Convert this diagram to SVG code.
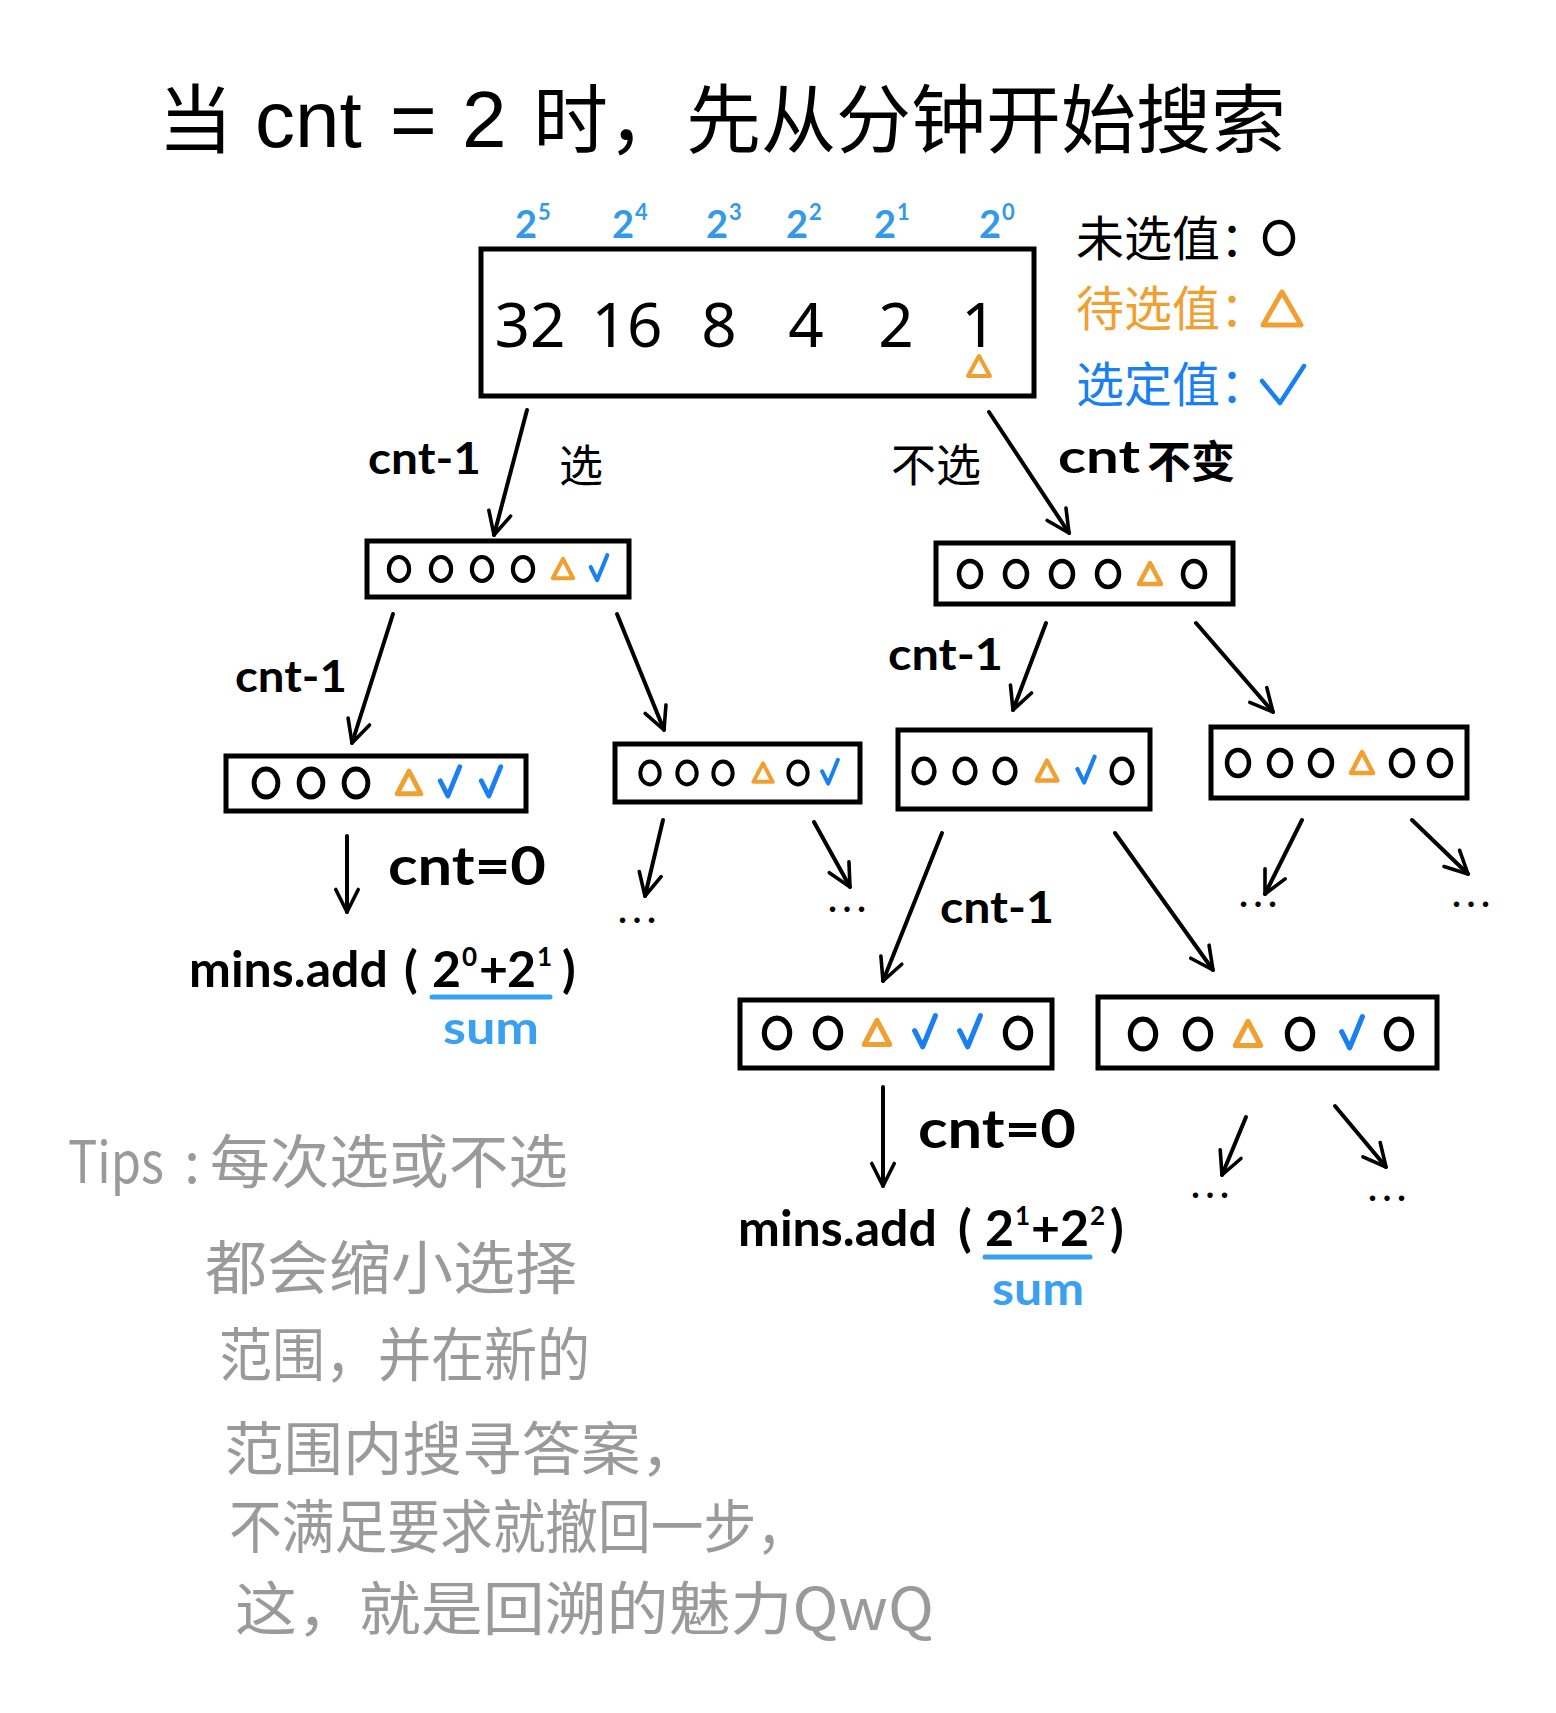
<svg xmlns="http://www.w3.org/2000/svg" xmlns:xlink="http://www.w3.org/1999/xlink" width="1556" height="1713" viewBox="0 0 1556 1713">
<style>
.box{fill:none;stroke:#000;stroke-width:5}
.arr{stroke:#000;stroke-width:4;fill:none;stroke-linecap:round;marker-end:url(#ah)}
.o{fill:none;stroke:#000;stroke-width:4.5}
.t{fill:none;stroke:#f0a030;stroke-width:4.5;stroke-linejoin:round}
.v{fill:none;stroke:#1a80f0;stroke-width:4.5;stroke-linecap:round;stroke-linejoin:round}
.lbl{font-family:Lato,"Noto Sans","Noto Sans CJK SC",sans-serif;font-weight:700;fill:#000}
.cjk{font-family:"Noto Sans CJK SC",sans-serif}
.ttl{font-family:"Liberation Sans","Noto Sans CJK SC",sans-serif;fill:#000}
.pw{font-family:Lato,sans-serif;font-weight:700;fill:#3399ea;font-size:38px}
.ps{font-family:Lato,sans-serif;font-weight:700;fill:#3399ea;font-size:22px}
.num{font-family:"Noto Sans",sans-serif;font-size:62px;text-anchor:middle;fill:#000}
.dots{font-family:Lato,sans-serif;font-weight:700;font-size:36px;letter-spacing:6px;text-anchor:middle;fill:#000}
.tips{font-family:"Noto Sans CJK SC",sans-serif;fill:#9a9a9a;font-size:58px}
.ul{stroke:#3aa0ef;stroke-width:5;stroke-linecap:round}
.sum{font-family:Lato,sans-serif;font-weight:700;fill:#3aa0ef;font-size:46px}
.m{font-family:Lato,sans-serif;font-weight:700;fill:#000;font-size:50px}
.ms{font-family:Lato,sans-serif;font-weight:700;fill:#000;font-size:26px}
</style>
<defs>
<marker id="ah" viewBox="0 0 20 20" refX="18" refY="10" markerWidth="30" markerHeight="30" markerUnits="userSpaceOnUse" orient="auto">
<path d="M3,2.5 L18,10 L3,17.5" fill="none" stroke="#000" stroke-width="2.4" stroke-linecap="round" stroke-linejoin="round"/>
</marker>
<g id="O"><ellipse rx="11" ry="13" class="o"/></g>
<g id="T"><polygon points="-11,10 0,-11 11,10" class="t"/></g>
<g id="V"><path d="M-9,-2 L-2,12 L9,-15" class="v"/></g>
</defs>
<rect width="1556" height="1713" fill="#fff"/>

<g id="title">
<text class="ttl" font-size="75" x="158" y="147">当</text>
<text class="ttl" font-size="80" x="255" y="147">cnt</text>
<text class="ttl" font-size="80" x="390" y="147">=</text>
<text class="ttl" font-size="80" x="462" y="147">2</text>
<text class="ttl" font-size="75" x="533" y="147">时，</text>
<text class="ttl" font-size="75" x="686" y="147">先从分钟开始搜索</text>
</g>

<g id="legend">
<text class="cjk" font-size="48" x="1076" y="256" fill="#000">未选值：</text>
<ellipse cx="1279" cy="238" rx="14" ry="16" class="o"/>
<text class="cjk" font-size="48" x="1076" y="326" fill="#f0a030">待选值：</text>
<polygon points="1263,325 1282,292 1301,325" class="t" style="stroke-width:5"/>
<text class="cjk" font-size="48" x="1076" y="402" fill="#1a80f0">选定值：</text>
<path d="M1262,381 L1280,403 L1304,366" class="v"/>
</g>

<g id="root">
<rect class="box" x="481" y="249" width="553" height="147"/>
<text class="pw" x="515" y="238">2</text><text class="ps" x="538" y="220">5</text>
<text class="pw" x="612" y="238">2</text><text class="ps" x="635" y="220">4</text>
<text class="pw" x="706" y="238">2</text><text class="ps" x="729" y="220">3</text>
<text class="pw" x="786" y="238">2</text><text class="ps" x="809" y="220">2</text>
<text class="pw" x="874" y="238">2</text><text class="ps" x="897" y="220">1</text>
<text class="pw" x="979" y="238">2</text><text class="ps" x="1002" y="220">0</text>
<text class="num" x="530" y="347">32</text>
<text class="num" x="627" y="347">16</text>
<text class="num" x="719" y="347">8</text>
<text class="num" x="806" y="347">4</text>
<text class="num" x="896" y="347">2</text>
<text class="num" x="979" y="347">1</text>
<polygon points="968,376 979,356 990,376" class="t" style="stroke-width:4"/>
</g>

<g id="n1a">
<rect class="box" x="367" y="541" width="262" height="56"/>
<use xlink:href="#O" transform="translate(399,569) scale(0.92)"/>
<use xlink:href="#O" transform="translate(441,569) scale(0.92)"/>
<use xlink:href="#O" transform="translate(482,569) scale(0.92)"/>
<use xlink:href="#O" transform="translate(523,569) scale(0.92)"/>
<use xlink:href="#T" transform="translate(563,569) scale(0.92)"/>
<use xlink:href="#V" transform="translate(599,569) scale(0.92)"/>
</g>

<g id="n1b">
<rect class="box" x="936" y="543" width="297" height="61"/>
<use xlink:href="#O" transform="translate(970,574)"/>
<use xlink:href="#O" transform="translate(1016,574)"/>
<use xlink:href="#O" transform="translate(1062,574)"/>
<use xlink:href="#O" transform="translate(1108,574)"/>
<use xlink:href="#T" transform="translate(1150,574)"/>
<use xlink:href="#O" transform="translate(1194,574)"/>
</g>

<g id="n2a">
<rect class="box" x="226" y="756" width="300" height="55"/>
<use xlink:href="#O" transform="translate(266,783) scale(1.08)"/>
<use xlink:href="#O" transform="translate(311,783) scale(1.08)"/>
<use xlink:href="#O" transform="translate(356,783) scale(1.08)"/>
<use xlink:href="#T" transform="translate(409,783) scale(1.08)"/>
<use xlink:href="#V" transform="translate(450,783) scale(1.08)"/>
<use xlink:href="#V" transform="translate(491,783) scale(1.08)"/>
</g>

<g id="n2b">
<rect class="box" x="615" y="744" width="245" height="58"/>
<use xlink:href="#O" transform="translate(650,773) scale(0.88)"/>
<use xlink:href="#O" transform="translate(687,773) scale(0.88)"/>
<use xlink:href="#O" transform="translate(723,773) scale(0.88)"/>
<use xlink:href="#T" transform="translate(763,773) scale(0.88)"/>
<use xlink:href="#O" transform="translate(798,773) scale(0.88)"/>
<use xlink:href="#V" transform="translate(830,773) scale(0.88)"/>
</g>

<g id="n2c">
<rect class="box" x="898" y="730" width="252" height="79"/>
<use xlink:href="#O" transform="translate(924,771) scale(0.95)"/>
<use xlink:href="#O" transform="translate(965,771) scale(0.95)"/>
<use xlink:href="#O" transform="translate(1005,771) scale(0.95)"/>
<use xlink:href="#T" transform="translate(1047,771) scale(0.95)"/>
<use xlink:href="#V" transform="translate(1086,771) scale(0.95)"/>
<use xlink:href="#O" transform="translate(1122,771) scale(0.95)"/>
</g>

<g id="n2d">
<rect class="box" x="1211" y="727" width="256" height="71"/>
<use xlink:href="#O" transform="translate(1238,763)"/>
<use xlink:href="#O" transform="translate(1280,763)"/>
<use xlink:href="#O" transform="translate(1321,763)"/>
<use xlink:href="#T" transform="translate(1362,763)"/>
<use xlink:href="#O" transform="translate(1402,763)"/>
<use xlink:href="#O" transform="translate(1440,763)"/>
</g>

<g id="n3a">
<rect class="box" x="740" y="1000" width="312" height="68"/>
<use xlink:href="#O" transform="translate(777,1033) scale(1.15)"/>
<use xlink:href="#O" transform="translate(828,1033) scale(1.15)"/>
<use xlink:href="#T" transform="translate(877,1033) scale(1.15)"/>
<use xlink:href="#V" transform="translate(925,1033) scale(1.15)"/>
<use xlink:href="#V" transform="translate(970,1033) scale(1.15)"/>
<use xlink:href="#O" transform="translate(1018,1033) scale(1.15)"/>
</g>

<g id="n3b">
<rect class="box" x="1098" y="997" width="339" height="71"/>
<use xlink:href="#O" transform="translate(1143,1034) scale(1.15)"/>
<use xlink:href="#O" transform="translate(1198,1034) scale(1.15)"/>
<use xlink:href="#T" transform="translate(1248,1034) scale(1.15)"/>
<use xlink:href="#O" transform="translate(1300,1034) scale(1.15)"/>
<use xlink:href="#V" transform="translate(1352,1034) scale(1.15)"/>
<use xlink:href="#O" transform="translate(1399,1034) scale(1.15)"/>
</g>

<g id="res1">
<text class="m" x="189" y="987">mins.add</text>
<text class="m" x="404" y="987">(</text>
<text class="m" x="432" y="987">2</text>
<text class="ms" x="462" y="966">0</text>
<text class="m" x="479" y="987">+</text>
<text class="m" x="507" y="987">2</text>
<text class="ms" x="537" y="966">1</text>
<text class="m" x="562" y="987">)</text>
<line class="ul" x1="432" y1="997" x2="550" y2="997"/>
<text class="sum" x="443" y="1044" textLength="96" lengthAdjust="spacingAndGlyphs">sum</text>
</g>

<g id="res2">
<text class="m" x="738" y="1246">mins.add</text>
<text class="m" x="958" y="1246">(</text>
<text class="m" x="985" y="1246">2</text>
<text class="ms" x="1015" y="1225">1</text>
<text class="m" x="1031" y="1246">+</text>
<text class="m" x="1060" y="1246">2</text>
<text class="ms" x="1090" y="1225">2</text>
<text class="m" x="1110" y="1246">)</text>
<line class="ul" x1="985" y1="1257" x2="1090" y2="1257"/>
<text class="sum" x="992" y="1305" textLength="92" lengthAdjust="spacingAndGlyphs">sum</text>
</g>

<g id="connectors">
<line class="arr" x1="527" y1="410" x2="494" y2="535"/>
<line class="arr" x1="989" y1="412" x2="1069" y2="533"/>
<line class="arr" x1="393" y1="614" x2="352" y2="743"/>
<line class="arr" x1="617" y1="614" x2="664" y2="730"/>
<line class="arr" x1="1046" y1="623" x2="1013" y2="710"/>
<line class="arr" x1="1196" y1="623" x2="1273" y2="712"/>
<line class="arr" x1="347" y1="836" x2="347" y2="912"/>
<line class="arr" x1="663" y1="820" x2="645" y2="896"/>
<line class="arr" x1="814" y1="822" x2="850" y2="887"/>
<line class="arr" x1="942" y1="833" x2="883" y2="981"/>
<line class="arr" x1="1115" y1="833" x2="1213" y2="970"/>
<line class="arr" x1="1302" y1="820" x2="1265" y2="894"/>
<line class="arr" x1="1412" y1="820" x2="1468" y2="874"/>
<line class="arr" x1="883" y1="1087" x2="883" y2="1186"/>
<line class="arr" x1="1246" y1="1117" x2="1222" y2="1175"/>
<line class="arr" x1="1335" y1="1106" x2="1386" y2="1167"/>
<text class="lbl" font-size="44" x="368" y="474" textLength="113" lengthAdjust="spacingAndGlyphs">cnt-1</text>
<text class="cjk" font-size="44" x="559" y="482" fill="#000">选</text>
<text class="cjk" font-size="45" x="891" y="482" fill="#000">不选</text>
<text class="lbl" font-size="46" x="1058" y="473" textLength="82" lengthAdjust="spacingAndGlyphs">cnt</text>
<text class="cjk" font-size="44" x="1147" y="478" font-weight="700" fill="#000">不变</text>
<text class="lbl" font-size="44" x="235" y="692" textLength="112" lengthAdjust="spacingAndGlyphs">cnt-1</text>
<text class="lbl" font-size="44" x="888" y="670" textLength="115" lengthAdjust="spacingAndGlyphs">cnt-1</text>
<text class="lbl" font-size="44" x="940" y="923" textLength="114" lengthAdjust="spacingAndGlyphs">cnt-1</text>
<text class="lbl" font-size="54" x="388" y="885" textLength="158" lengthAdjust="spacingAndGlyphs">cnt=0</text>
<text class="lbl" font-size="54" x="918" y="1148" textLength="158" lengthAdjust="spacingAndGlyphs">cnt=0</text>
<text class="dots" x="640" y="923">...</text>
<text class="dots" x="850" y="912">...</text>
<text class="dots" x="1261" y="907">...</text>
<text class="dots" x="1474" y="907">...</text>
<text class="dots" x="1213" y="1198">...</text>
<text class="dots" x="1390" y="1201">...</text>
</g>

<g id="tips">
<text class="tips" x="68" y="1183" textLength="96" lengthAdjust="spacingAndGlyphs">Tips</text>
<text class="tips" x="184" y="1183">:</text>
<text class="tips" x="210" y="1183" textLength="358" lengthAdjust="spacingAndGlyphs">每次选或不选</text>
<text class="tips" x="205" y="1289" textLength="372" lengthAdjust="spacingAndGlyphs">都会缩小选择</text>
<text class="tips" x="219" y="1376" textLength="371" lengthAdjust="spacingAndGlyphs">范围，并在新的</text>
<text class="tips" x="224" y="1470" textLength="476" lengthAdjust="spacingAndGlyphs">范围内搜寻答案，</text>
<text class="tips" x="229" y="1548" textLength="580" lengthAdjust="spacingAndGlyphs">不满足要求就撤回一步，</text>
<text class="tips" x="235" y="1630" textLength="699" lengthAdjust="spacingAndGlyphs">这，就是回溯的魅力QwQ</text>
</g>
</svg>
